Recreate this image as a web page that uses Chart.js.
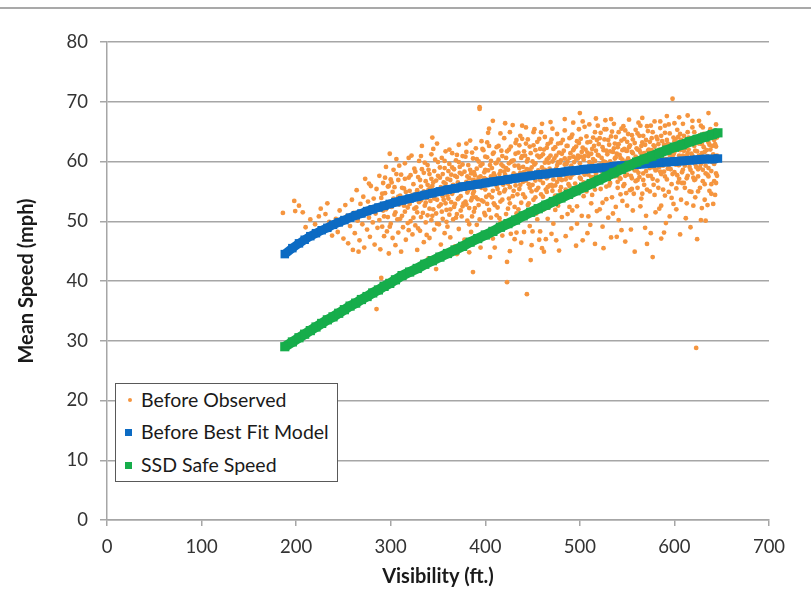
<!DOCTYPE html>
<html>
<head>
<meta charset="utf-8">
<script src="https://cdn.jsdelivr.net/npm/chart.js@4.4.1/dist/chart.umd.min.js"></script>
<style>
  html, body { margin: 0; padding: 0; background: #ffffff; }
  #wrap { position: relative; width: 811px; height: 597px; overflow: hidden; }
  #topline { position: absolute; left: 0; top: 7px; width: 811px; height: 2px; background: #a9a9a9; }
  #legend { position: absolute; left: 115px; top: 383px; width: 221px; height: 97px;
            border: 1px solid #595959; background: #fff; font-family: Lato, "Open Sans", sans-serif;
            font-size: 19.5px; color: #1a1a1a; }
  .row { position: absolute; left: 0; height: 26px; line-height: 26px; white-space: nowrap; }
  .row span.t { position: absolute; left: 25px; top: 0; }
  .mk { position: absolute; }
</style>
</head>
<body>
<div id="wrap">
  <canvas id="c" width="811" height="597"></canvas>
  <div id="topline"></div>
  <div id="legend"></div>
</div>
<script>
// ---- Data ----
const seriesNames = ["Before Observed", "Before Best Fit Model", "SSD Safe Speed"];
const xTicks = [0, 100, 200, 300, 400, 500, 600, 700];
const yTicks = [0, 10, 20, 30, 40, 50, 60, 70, 80];

// Before Observed: [visibility (ft), mean speed (mph)]
const beforeObserved = [
[186,51.4],[198,53.4],[199,51.7],[207,51.5],[210,49.0],[203,52.6],[215,50.3],[220,49.5],[224,50.8],[228,48.7],[231,51.2],[235,49.9],[238,47.6],[226,52.1],[233,53.0],
[242,50.4],[244,48.2],[246,51.8],[248,49.6],[250,47.1],[252,52.7],[254,50.9],[255,46.3],[257,49.2],[259,53.6],[261,51.4],[262,48.0],[264,55.2],[265,50.1],[267,46.8],[268,52.9],[270,49.5],[271,54.1],[272,45.6],[274,51.7],[275,48.6],[276,53.3],[277,50.6],[278,47.4],[279,55.9],[280,52.2],[273,57.1],[266,44.9],[260,45.2],[277,56.3],
[281,49.8],[282,53.8],[283,46.1],[284,51.3],[285,35.3],[285,55.4],[286,48.9],[287,52.5],[288,57.6],[288,50.2],[289,45.3],[290,40.5],[290,53.9],[291,49.1],[292,56.4],[292,51.8],[293,47.5],[294,54.7],[295,52.0],[295,59.1],[296,48.3],[297,55.8],[297,50.7],[298,44.6],[298,53.2],[299,61.3],[300,57.0],[300,49.6],[301,52.4],[302,54.9],[302,47.2],[303,58.6],[304,51.1],[304,55.7],[305,46.0],[306,53.5],[306,60.4],[307,50.3],[308,56.9],[308,48.1],[309,52.8],[310,54.3],[311,44.9],[311,57.8],[312,50.9],[313,53.1],[313,49.0],[314,55.5],[315,59.7],[315,51.6],[316,46.9],[317,54.0],[318,52.3],[319,57.3],[319,48.5],
[320,55.1],[321,50.0],[322,53.7],[322,61.0],[323,47.8],[324,56.2],[325,52.1],[325,58.8],[326,49.3],[327,54.6],[328,45.2],[328,51.5],[329,57.4],[330,53.2],[330,60.1],[331,48.4],[332,55.8],[332,50.7],[333,62.6],[334,54.1],[335,46.5],[335,58.1],[336,52.6],[337,56.7],[337,49.8],[338,53.9],[339,59.4],[339,51.0],[340,55.3],[341,47.2],[341,57.9],[342,53.4],[343,50.2],[343,61.2],[344,64.0],[344,55.9],[345,52.0],[346,48.6],[346,58.4],[347,54.5],[348,42.0],[348,56.8],[348,51.3],[349,63.0],[349,53.6],[350,59.9],[351,49.5],[351,55.0],[352,57.3],[353,52.8],[353,46.1],[354,60.6],[355,54.2],[355,50.4],[356,56.5],[357,58.9],[357,48.0],[358,53.0],[358,61.7],[359,55.6],[359,51.9],[356,44.3],[340,43.8],[332,60.9],[345,62.1],
[360,57.1],[360,49.1],[361,53.8],[362,59.6],[362,55.2],[363,47.3],[363,52.0],[364,57.8],[365,61.4],[365,54.6],[366,50.3],[366,56.1],[367,58.7],[368,52.9],[368,45.8],[369,55.4],[369,60.2],[370,57.4],[370,51.2],[371,53.7],[372,62.8],[372,48.7],[373,56.0],[373,59.1],[374,54.2],[375,50.8],[375,57.9],[376,52.5],[376,60.9],[377,55.7],[378,46.9],[378,58.3],[379,53.3],[380,56.6],[380,61.6],[381,50.1],[381,54.8],[382,59.4],[383,57.2],[383,52.2],[384,63.5],[384,55.5],[385,48.2],[385,58.0],[386,53.9],[387,41.5],[387,56.9],[387,60.5],[388,51.6],[388,55.0],[389,57.7],[390,62.2],[390,54.0],[391,49.4],[391,58.8],[392,56.2],[393,52.7],[393,60.0],[394,69.1],[394,68.8],[394,55.8],[395,57.5],[396,47.6],[396,53.5],[397,59.6],[398,56.4],[398,61.9],[399,51.4],[399,58.2],[370,44.5],
[400,55.3],[400,60.8],[401,57.0],[402,52.9],[402,63.2],[403,64.8],[403,58.5],[404,54.4],[405,44.0],[405,56.7],[406,60.1],[406,50.6],[407,58.9],[408,66.8],[408,55.1],[409,53.0],[409,61.5],[410,57.6],[411,48.9],[411,59.7],[412,55.9],[412,62.4],[413,52.3],[414,57.1],[414,60.3],[415,54.7],[416,58.4],[416,49.8],[417,61.8],[418,56.3],[418,53.6],[419,59.2],[420,63.9],[420,55.0],[421,66.4],[421,57.8],[422,51.2],[422,60.6],[423,39.8],[423,43.2],[423,56.5],[424,58.6],[425,53.8],[425,62.0],[426,55.7],[427,59.9],[427,47.9],[428,57.3],[429,66.1],[429,54.2],[430,60.2],[430,58.0],[431,52.4],[432,61.3],[432,56.0],[433,63.6],[434,57.5],[434,50.5],[435,59.3],[436,55.4],[436,62.7],[437,58.1],[438,53.1],[438,46.4],[439,60.9],[439,57.0],[410,45.6],[416,64.7],[426,45.0],[433,48.1],[404,62.6],[412,51.0],[437,64.3],
[440,56.6],[440,59.1],[441,61.7],[442,54.0],[442,57.9],[443,63.0],[444,37.8],[444,58.7],[445,52.7],[445,60.4],[446,56.2],[447,62.5],[447,49.2],[448,58.3],[449,46.0],[449,55.0],[450,60.0],[450,57.4],[451,64.9],[451,53.6],[452,59.5],[453,56.8],[453,61.9],[454,51.3],[455,58.1],[455,63.3],[456,55.6],[457,60.7],[457,57.7],[458,48.3],[458,62.1],[459,54.5],[460,45.5],[460,59.0],[461,56.4],[461,61.2],[462,52.0],[463,58.6],[463,64.1],[464,55.3],[465,60.3],[465,57.2],[466,62.9],[466,50.4],[467,59.8],[468,56.0],[468,53.2],[469,66.6],[469,61.0],[470,58.4],[470,63.7],[471,55.8],[472,57.0],[472,49.6],[473,60.5],[474,62.4],[474,54.3],[475,58.8],[476,56.6],[476,64.6],[477,52.6],[477,59.9],[478,61.5],[479,57.5],[479,55.1],[448,43.5],[464,47.0],[452,65.4],[475,46.8],[443,50.9],[471,65.5],
[480,60.2],[480,63.1],[481,56.9],[482,58.4],[482,53.9],[483,61.8],[484,59.5],[484,65.2],[485,55.3],[486,57.6],[486,62.6],[487,51.2],[487,60.0],[488,58.7],[489,63.9],[489,55.9],[490,61.4],[490,57.3],[491,48.8],[491,59.3],[492,64.5],[492,54.6],[493,60.8],[494,58.0],[494,62.2],[495,56.3],[496,45.9],[496,60.5],[497,63.4],[497,52.5],[498,58.9],[498,61.0],[499,55.6],[500,68.1],[500,59.7],[501,57.1],[501,63.8],[502,50.9],[502,61.6],[503,58.2],[504,60.3],[504,54.2],[505,65.8],[505,57.8],[506,62.0],[507,59.0],[507,55.0],[508,63.2],[508,48.0],[509,60.9],[510,58.5],[510,66.2],[511,56.4],[512,61.3],[512,53.0],[513,59.6],[514,64.0],[514,57.4],[515,62.6],[516,55.3],[516,60.1],[517,58.0],[518,63.6],[518,51.7],[519,61.1],[519,56.8],[485,47.5],[503,46.8],[511,49.4],[493,66.5],[517,67.2],
[520,59.4],[520,62.9],[521,57.3],[522,64.8],[522,55.4],[523,60.6],[524,58.1],[524,53.1],[525,45.5],[525,61.9],[526,63.7],[526,57.0],[527,59.9],[528,55.8],[528,65.4],[529,61.2],[530,58.6],[530,50.6],[531,62.8],[532,60.0],[532,56.4],[533,64.2],[534,58.9],[534,54.0],[535,61.6],[536,66.3],[536,59.2],[537,57.5],[537,63.0],[538,52.4],[538,60.7],[539,58.0],[540,62.4],[540,55.6],[541,64.9],[542,59.5],[542,61.1],[543,57.1],[544,63.5],[544,48.5],[545,60.3],[546,58.4],[546,65.9],[547,56.2],[547,62.1],[548,59.8],[549,54.7],[549,61.8],[550,63.3],[550,57.8],[551,60.5],[552,67.0],[552,58.7],[553,55.2],[553,62.7],[554,60.0],[555,64.4],[555,57.2],[556,51.8],[556,61.4],[557,59.1],[558,44.9],[558,63.1],[559,56.7],[559,60.8],[533,47.3],[541,50.2],[548,46.6],[527,66.9],[545,53.4],
[560,62.2],[560,58.5],[561,64.7],[561,55.6],[562,60.4],[563,61.9],[563,57.4],[564,66.0],[564,59.3],[565,53.8],[565,62.6],[566,60.9],[567,58.0],[567,64.3],[568,56.1],[568,61.4],[569,59.6],[570,63.6],[570,50.9],[571,46.2],[571,60.7],[572,57.6],[572,65.1],[573,62.0],[574,58.9],[574,55.0],[575,61.2],[576,63.9],[576,59.9],[577,44.0],[577,57.1],[578,62.7],[578,60.2],[579,66.7],[579,54.4],[580,61.5],[581,58.6],[581,64.1],[582,56.8],[582,60.0],[583,62.9],[584,52.1],[584,59.1],[585,65.6],[585,61.0],[586,57.9],[587,63.4],[587,60.6],[588,55.3],[588,62.1],[589,58.3],[590,64.8],[590,59.7],[591,49.7],[591,61.7],[592,57.0],[593,63.0],[593,60.3],[594,66.2],[594,54.9],[595,61.1],[596,58.7],[596,62.5],[597,56.2],[598,70.5],[598,60.8],[599,64.0],[599,52.9],[575,48.0],[586,47.1],[566,67.3],[592,67.6],[580,51.5],
[600,61.6],[600,58.2],[601,63.7],[602,60.1],[602,55.5],[603,65.3],[603,62.3],[604,59.4],[605,57.1],[605,61.0],[606,64.6],[607,53.6],[607,60.4],[608,62.8],[609,58.6],[609,66.3],[610,56.4],[610,61.8],[611,63.2],[612,59.8],[612,50.5],[613,60.9],[614,64.9],[614,57.6],[615,62.0],[616,55.0],[616,59.1],[617,49.0],[617,63.5],[618,61.3],[619,58.1],[619,65.7],[620,60.2],[621,56.9],[621,62.6],[622,54.0],[622,59.6],[623,28.8],[623,64.0],[624,61.7],[625,57.5],[625,60.7],[626,63.0],[627,55.6],[627,59.0],[628,66.0],[629,61.4],[629,52.2],[630,58.6],[631,62.4],[631,60.0],[632,56.2],[633,64.5],[633,59.3],[634,61.9],[635,52.7],[635,57.8],[636,68.1],[636,63.2],[637,60.6],[637,55.1],[638,62.0],[639,58.4],[640,64.3],[640,59.9],[641,61.2],[642,56.7],[642,63.6],[643,54.4],[643,60.0],[644,62.5],[644,58.0],[645,61.0],[605,67.4],[626,66.8],[638,65.4],
[291,54.6],[293,50.8],[294,57.3],[296,53.0],[298,55.9],[299,49.1],[301,56.5],[303,53.8],[305,51.5],[306,57.9],[308,54.1],[309,59.3],[310,50.4],[312,55.6],[314,52.6],[315,57.1],[316,54.9],[318,49.7],[319,60.6],[320,52.9],[321,57.7],[323,54.4],[324,50.6],[326,58.3],[327,52.3],[328,55.2],[329,48.8],[331,56.9],[332,53.5],[333,58.7],[334,51.4],[335,55.0],[336,59.8],[337,53.1],[338,47.7],[339,56.1],[340,58.6],[341,52.1],[342,55.6],[343,57.1],[344,50.9],[345,56.5],[346,53.8],[347,60.3],[348,54.9],[349,49.6],[350,57.6],[351,52.5],[352,59.0],[353,55.7],
[354,51.6],[355,57.9],[356,53.6],[357,60.1],[358,56.3],[359,49.9],[360,54.3],[361,58.4],[362,51.1],[363,56.9],[364,53.2],[365,59.0],[366,55.0],[367,52.4],[368,57.6],[369,50.6],[370,61.1],[371,56.5],[372,53.9],[373,58.1],[374,51.8],[375,55.4],[376,59.5],[377,53.0],[378,56.0],[379,60.8],[380,52.8],[381,57.5],[382,55.2],[383,49.5],[384,58.6],[385,53.5],[386,61.5],[387,54.6],[388,58.2],[389,52.2],[390,56.8],[391,60.4],[392,53.7],[393,57.3],[394,50.3],[395,59.3],[396,55.6],[397,62.1],[398,53.3],[399,57.2],[400,58.6],[401,54.1],[402,60.7],[403,56.2],[404,51.9],[405,59.4],[406,57.5],[407,54.0],[408,61.3],[409,58.0],[410,52.7],[411,56.6],[412,59.8],[413,55.4],[414,62.6],[415,57.9],[416,53.3],[417,59.5],[418,60.9],[419,56.1],[420,58.3],[400,51.0],[386,50.8],[372,59.9],[362,62.0],[404,65.5],[396,63.4],[380,63.0],[415,50.5],[418,47.6],[408,47.1],[395,45.6],[383,44.8],
[421,55.3],[422,58.9],[423,61.7],[424,56.3],[425,59.7],[426,53.0],[427,62.5],[428,60.1],[429,57.0],[430,55.1],[431,59.3],[432,63.1],[433,57.7],[434,54.5],[435,61.5],[436,58.9],[437,56.1],[438,60.6],[439,63.8],[440,54.5],[441,58.2],[442,61.0],[443,56.8],[444,60.0],[445,63.7],[446,58.6],[447,55.6],[448,61.4],[449,59.0],[450,56.1],[451,62.7],[452,57.8],[453,59.7],[454,55.2],[455,61.0],[456,58.5],[457,63.8],[458,56.9],[459,60.9],[460,57.8],[461,54.1],[462,62.0],[463,59.8],[464,57.5],[465,62.3],[466,55.7],[467,60.6],[468,58.8],[469,63.2],[470,56.1],[471,60.0],[472,62.1],[473,58.0],[474,56.0],[475,61.0],[476,59.4],[477,63.0],[478,57.1],[479,59.8],[480,55.7],[481,61.3],[482,63.6],[483,58.1],[484,60.5],[485,57.0],[486,59.6],[487,62.6],[488,56.2],[489,60.6],[490,58.9],[491,64.1],[492,57.8],[493,61.9],[494,59.9],[495,55.0],[496,62.5],[497,58.3],[498,60.5],[499,63.1],[500,57.3],[426,64.9],[433,51.3],[441,48.2],[446,53.0],[455,50.3],[459,64.9],[467,52.3],[474,51.9],[481,50.7],[489,52.4],[497,49.6],[429,50.0],[450,48.3],[462,44.9],[478,45.1],[439,66.0],[484,67.1],[460,66.3],[443,65.7],[499,65.4],[471,55.1],[453,54.0],[435,52.0],[487,54.3],[424,52.1],[465,54.9],[492,51.8],[431,47.0],[457,46.9],[470,47.9],
[501,60.8],[502,58.4],[503,62.3],[504,56.5],[505,60.9],[506,58.3],[507,64.2],[508,61.5],[509,57.8],[510,59.9],[511,63.3],[512,57.4],[513,62.1],[514,60.4],[515,58.8],[516,64.9],[517,61.8],[518,59.2],[519,57.1],[520,61.0],[521,63.9],[522,59.5],[523,57.3],[524,62.4],[525,60.0],[526,65.4],[527,58.2],[528,61.8],[529,59.6],[530,63.6],[531,57.8],[532,61.7],[533,59.1],[534,65.0],[535,58.5],[536,62.2],[537,60.5],[538,64.1],[539,61.3],[540,58.6],[541,62.9],[542,57.3],[543,60.6],[544,65.5],[545,61.9],[546,59.3],[547,63.8],[548,57.6],[549,60.0],[550,61.8],[551,64.6],[552,62.4],[553,59.6],[554,57.6],[555,61.6],[556,63.7],[557,60.2],[558,58.5],[559,65.3],[560,60.6],[561,62.0],[562,58.1],[563,64.3],[564,61.5],[565,59.7],[566,63.2],[567,56.9],[568,60.3],[569,62.8],[570,58.4],[571,65.9],[572,61.8],[573,59.4],[574,63.3],[575,57.6],[576,61.9],[577,64.9],[578,59.0],[579,62.5],[580,58.5],[506,55.5],[513,54.4],[521,52.0],[528,53.7],[535,51.3],[543,54.5],[550,52.6],[557,54.6],[564,52.5],[571,55.3],[578,56.1],[509,50.8],[524,49.1],[539,47.4],[554,48.6],[569,48.9],[516,46.2],[531,56.0],[546,55.9],[561,56.9],[503,66.7],[519,66.0],[533,67.1],[548,65.2],[562,66.5],[575,66.0],[540,56.6],[555,55.4],[510,56.1],[566,54.6],
[581,61.1],[582,63.7],[583,59.6],[584,62.0],[585,58.3],[586,64.3],[587,61.5],[588,59.3],[589,62.8],[590,57.5],[591,60.4],[592,63.6],[593,58.8],[594,61.5],[595,64.7],[596,60.1],[597,62.6],[598,57.9],[599,61.2],[600,63.4],[601,59.5],[602,62.5],[603,57.7],[604,64.1],[605,59.4],[606,61.9],[607,63.6],[608,58.2],[609,61.0],[610,64.3],[611,59.3],[612,62.4],[613,57.2],[614,61.4],[615,64.0],[616,60.4],[617,58.6],[618,63.3],[619,61.0],[620,57.3],[621,64.9],[622,61.8],[623,59.1],[624,63.3],[625,58.7],[626,61.0],[627,64.4],[628,59.6],[629,62.9],[630,56.7],[631,64.6],[632,61.6],[633,58.0],[634,63.6],[635,60.9],[636,58.9],[637,62.8],[638,60.3],[639,56.2],[640,62.6],[641,64.9],[642,59.6],[643,62.9],[644,56.4],[645,64.0],[583,55.6],[590,54.3],[597,53.9],[604,56.5],[611,55.6],[618,54.9],[625,55.0],[632,53.6],[639,54.6],[645,57.6],[586,52.6],[595,50.8],[602,52.0],[613,53.0],[620,52.6],[628,50.2],[641,52.9],[589,48.1],[606,47.8],[624,47.0],[633,50.1],[585,66.7],[600,66.4],[614,67.7],[630,65.7],[644,66.2],[594,58.9],[608,56.4],[622,57.0],[636,57.5],[590,66.0],[619,66.8]
];

// Visibility values at which the two model curves are plotted
const modelVisibility = [188,196,203,209,215,221,227,233,239,245,251,257,263,269,275,281,287,293,299,305,312,320,328,336,344,352,360,368,376,384,392,400,408,416,424,432,440,448,456,464,472,480,488,496,504,512,520,528,536,544,552,560,568,576,584,592,600,608,616,624,632,640,646];
const bestFitSpeed = [44.5,45.5,46.3,46.9,47.5,48.0,48.5,48.9,49.4,49.8,50.2,50.6,51.0,51.3,51.7,52.0,52.3,52.6,52.9,53.2,53.5,53.8,54.1,54.4,54.7,55.0,55.3,55.5,55.8,56.0,56.2,56.4,56.6,56.8,57.0,57.2,57.4,57.6,57.8,57.9,58.1,58.2,58.4,58.5,58.7,58.8,58.9,59.0,59.2,59.3,59.4,59.5,59.6,59.7,59.8,59.9,60.0,60.1,60.2,60.3,60.4,60.4,60.5];
const ssdSafeSpeed = [29.0,29.8,30.5,31.1,31.7,32.3,32.9,33.5,34.0,34.6,35.2,35.8,36.3,36.9,37.4,38.0,38.5,39.1,39.6,40.2,40.9,41.5,42.1,42.8,43.4,44.0,44.6,45.2,45.8,46.5,47.1,47.7,48.3,49.0,49.6,50.2,50.9,51.5,52.1,52.7,53.3,53.9,54.5,55.1,55.7,56.3,56.9,57.5,58.1,58.7,59.3,59.9,60.4,60.9,61.4,61.9,62.4,62.8,63.3,63.7,64.1,64.5,64.8];

const colors = ["#F5953F", "#0C6BC3", "#16AD4B"];

// ---- Build the chart ----
const FONT = 'Lato, "Open Sans", sans-serif';
const obsPts = beforeObserved.map(p => ({x: p[0], y: p[1]}));
const fitPts = modelVisibility.map((x, i) => ({x: x, y: bestFitSpeed[i]}));
const ssdPts = modelVisibility.map((x, i) => ({x: x, y: ssdSafeSpeed[i]}));

new Chart(document.getElementById('c'), {
  type: 'scatter',
  data: {
    datasets: [
      { label: seriesNames[0], data: obsPts, pointStyle: 'circle', pointRadius: 2.4,
        backgroundColor: colors[0], borderWidth: 0, pointBorderWidth: 0, order: 3 },
      { label: seriesNames[1], data: fitPts, pointStyle: 'rect', pointRadius: 6,
        pointBackgroundColor: colors[1], pointBorderWidth: 0, backgroundColor: colors[1],
        showLine: true, borderColor: colors[1], borderWidth: 9, tension: 0, order: 2 },
      { label: seriesNames[2], data: ssdPts, pointStyle: 'rect', pointRadius: 6.5,
        pointBackgroundColor: colors[2], pointBorderWidth: 0, backgroundColor: colors[2],
        showLine: true, borderColor: colors[2], borderWidth: 10, tension: 0, order: 1 }
    ]
  },
  options: {
    responsive: false,
    animation: false,
    events: [],
    layout: { padding: { left: 0, right: 42, top: 42, bottom: 0 } },
    plugins: { legend: { display: false }, tooltip: { enabled: false } },
    scales: {
      x: {
        type: 'linear', min: xTicks[0], max: xTicks[xTicks.length - 1],
        afterBuildTicks: s => { s.ticks = xTicks.map(v => ({value: v})); },
        afterFit: s => { s.height = 77; },
        grid: { drawOnChartArea: false, drawTicks: true, tickLength: 6, color: '#a6a6a6', lineWidth: 1.5 },
        border: { display: true, color: '#a6a6a6', width: 1.5 },
        ticks: { font: { family: FONT, size: 18.5 }, color: '#333333', padding: 10, maxRotation: 0 },
        title: { display: true, text: 'Visibility (ft.)', color: '#1a1a1a',
                 font: { family: FONT, size: 20, weight: 'bold' }, padding: { top: 0, bottom: 8 } }
      },
      y: {
        type: 'linear', min: yTicks[0], max: yTicks[yTicks.length - 1],
        afterBuildTicks: s => { s.ticks = yTicks.map(v => ({value: v})); },
        afterFit: s => { s.width = 107; },
        grid: { drawOnChartArea: true, drawTicks: true, tickLength: 7, color: '#a6a6a6', lineWidth: 1.5 },
        border: { display: true, color: '#a6a6a6', width: 1.5 },
        ticks: { font: { family: FONT, size: 18.5 }, color: '#333333', padding: 12 },
        title: { display: true, text: 'Mean Speed (mph)', color: '#1a1a1a',
                 font: { family: FONT, size: 20, weight: 'bold' }, padding: { top: 15, bottom: 0 } }
      }
    }
  }
});

// ---- Legend (HTML text) ----
const legend = document.getElementById('legend');
const rowTops = [3, 35, 68];
seriesNames.forEach((name, i) => {
  const row = document.createElement('div');
  row.className = 'row';
  row.style.top = rowTops[i] + 'px';
  const mk = document.createElement('div');
  mk.className = 'mk';
  if (i === 0) {
    mk.style.cssText = 'left:12px;top:11px;width:4px;height:4px;border-radius:50%;background:' + colors[0];
  } else {
    mk.style.cssText = 'left:9px;top:10px;width:7px;height:7px;background:' + colors[i];
  }
  const t = document.createElement('span');
  t.className = 't';
  t.textContent = name;
  row.appendChild(mk);
  row.appendChild(t);
  legend.appendChild(row);
});
</script>
</body>
</html>
